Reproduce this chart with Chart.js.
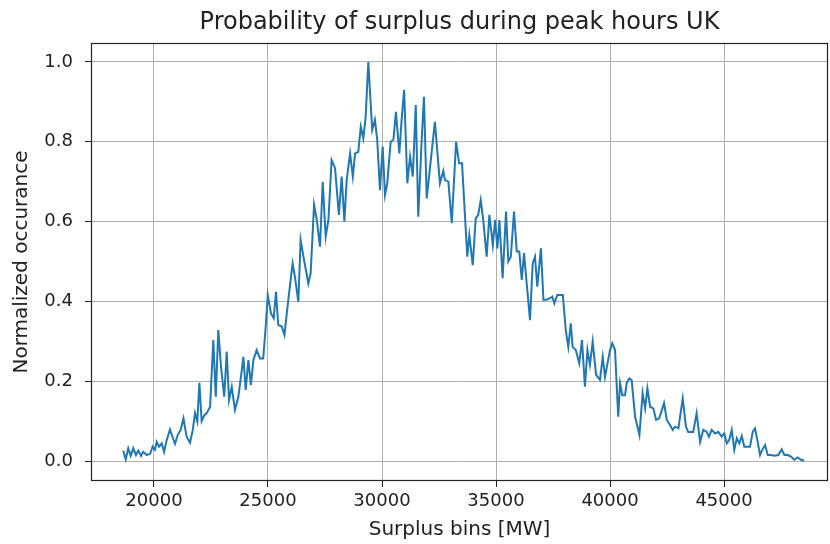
<!DOCTYPE html>
<html>
<head>
<meta charset="utf-8">
<script src="https://cdn.jsdelivr.net/npm/chart.js@4"></script>
<style>
  html, body { margin: 0; padding: 0; background: #fff; }
  #wrap { width: 830px; height: 544px; }
</style>
</head>
<body>
<div id="wrap"><canvas id="surplusChart" width="830" height="544"></canvas></div>
<script>
// ================== Data ==================
const chartTitle = "Probability of surplus during peak hours UK";

const surplusMW = [
  18650, 18760, 18870, 18980, 19090, 19210, 19310, 19430, 19530, 19680,
  19830, 19940, 20040, 20120, 20220, 20340, 20440, 20560, 20700, 20820,
  20920, 21040, 21170, 21290, 21430, 21580, 21700, 21800, 21900, 21990,
  22090, 22210, 22310, 22460, 22600, 22710, 22820, 22940, 23080, 23190,
  23290, 23410, 23550, 23700, 23850, 23920, 24020, 24140, 24250, 24360,
  24500, 24650, 24790, 24900, 24990, 25130, 25250, 25350, 25450, 25600,
  25720, 25890, 26080, 26180, 26330, 26430, 26580, 26770, 26870, 27020,
  27140, 27280, 27400, 27530, 27650, 27790, 27940, 28110, 28230, 28350,
  28450, 28600, 28720, 28820, 28960, 29070, 29180, 29280, 29400, 29570,
  29690, 29790, 29910, 30030, 30130, 30230, 30380, 30500, 30610, 30760,
  30860, 30970, 31110, 31230, 31350, 31480, 31590, 31740, 31840, 31960,
  32110, 32320, 32540, 32690, 32760, 32910, 33060, 33250, 33380, 33510,
  33740, 33830, 33980, 34110, 34220, 34330, 34440, 34590, 34710, 34860,
  34960, 35060, 35150, 35290, 35440, 35540, 35650, 35790, 35910, 36020,
  36130, 36230, 36320, 36490, 36610, 36710, 36810, 36970, 37080, 37220,
  37370, 37470, 37560, 37690, 37930, 38060, 38170, 38280, 38360, 38500,
  38650, 38770, 38900, 39010, 39120, 39240, 39390, 39560, 39680, 39780,
  40000, 40100, 40220, 40360, 40440, 40540, 40660, 40730, 40850, 40950,
  41100, 41290, 41430, 41540, 41640, 41760, 41900, 42020, 42160, 42370,
  42490, 42630, 42750, 42850, 43000, 43190, 43330, 43430, 43650, 43800,
  43950, 44090, 44240, 44340, 44460, 44610, 44750, 44900, 45010, 45120,
  45230, 45340, 45450, 45560, 45670, 45780, 45890, 46140, 46260, 46360,
  46460, 46580, 46680, 46800, 46920, 47060, 47210, 47380, 47530, 47650,
  47800, 47940, 48080, 48230, 48380, 48520
];

const occurrence = [
  0.026, 0.004, 0.032, 0.013, 0.032, 0.015, 0.026, 0.013, 0.023, 0.015,
  0.018, 0.036, 0.028, 0.048, 0.036, 0.044, 0.023, 0.053, 0.079, 0.059,
  0.043, 0.065, 0.078, 0.107, 0.061, 0.046, 0.078, 0.120, 0.099, 0.196,
  0.100, 0.115, 0.120, 0.136, 0.303, 0.161, 0.328, 0.236, 0.161, 0.274,
  0.153, 0.186, 0.128, 0.161, 0.228, 0.261, 0.178, 0.253, 0.190, 0.253,
  0.278, 0.257, 0.257, 0.337, 0.416, 0.370, 0.358, 0.424, 0.341, 0.337,
  0.316, 0.404, 0.495, 0.462, 0.399, 0.554, 0.504, 0.445, 0.470, 0.642,
  0.604, 0.537, 0.700, 0.562, 0.604, 0.754, 0.734, 0.617, 0.713, 0.600,
  0.704, 0.771, 0.713, 0.771, 0.775, 0.838, 0.809, 0.860, 1.000, 0.830,
  0.855, 0.805, 0.679, 0.788, 0.667, 0.696, 0.800, 0.805, 0.875, 0.771,
  0.855, 0.930, 0.696, 0.763, 0.713, 0.892, 0.612, 0.805, 0.913, 0.658,
  0.738, 0.850, 0.696, 0.727, 0.704, 0.700, 0.596, 0.800, 0.746, 0.746,
  0.512, 0.566, 0.491, 0.608, 0.617, 0.654, 0.604, 0.512, 0.617, 0.541,
  0.604, 0.533, 0.604, 0.458, 0.625, 0.500, 0.512, 0.625, 0.525, 0.525,
  0.454, 0.521, 0.462, 0.353, 0.495, 0.512, 0.437, 0.533, 0.404, 0.404,
  0.408, 0.412, 0.395, 0.416, 0.416, 0.328, 0.286, 0.345, 0.286, 0.278,
  0.245, 0.303, 0.186, 0.278, 0.241, 0.299, 0.216, 0.203, 0.261, 0.211,
  0.278, 0.295, 0.278, 0.111, 0.195, 0.165, 0.165, 0.195, 0.207, 0.203,
  0.111, 0.065, 0.170, 0.132, 0.182, 0.136, 0.132, 0.103, 0.107, 0.145,
  0.103, 0.090, 0.078, 0.086, 0.082, 0.157, 0.086, 0.073, 0.073, 0.120,
  0.048, 0.078, 0.073, 0.061, 0.078, 0.069, 0.073, 0.061, 0.069, 0.044,
  0.053, 0.078, 0.028, 0.057, 0.044, 0.063, 0.036, 0.036, 0.073, 0.082,
  0.053, 0.015, 0.028, 0.040, 0.015, 0.015, 0.013, 0.015, 0.029, 0.015,
  0.015, 0.011, 0.003, 0.009, 0.003, 0.001
];

const xTicks = [20000, 25000, 30000, 35000, 40000, 45000];
const yTicks = [0.0, 0.2, 0.4, 0.6, 0.8, 1.0];

// ================== Style ==================
const TEXT = "#222";
const GRID = "#b0b0b0";
const FONT = "'DejaVu Sans', sans-serif";
Chart.defaults.font.family = FONT;
Chart.defaults.color = TEXT;

// frame around the plot area (all four spines) + title centred over the axes
const frame = {
  id: "frame",
  afterDraw(chart) {
    const { ctx, chartArea: a } = chart;
    ctx.save();
    ctx.strokeStyle = "#222";
    ctx.lineWidth = 1.2;
    ctx.strokeRect(a.left + 0.5, a.top + 0.5, a.right - a.left - 1, a.bottom - a.top - 1);

    ctx.fillStyle = TEXT;
    ctx.font = `24px ${FONT}`;
    ctx.textAlign = "center";
    ctx.textBaseline = "alphabetic";
    ctx.fillText(chartTitle, (a.left + a.right) / 2, 29);
    ctx.restore();
  },
};

// ================== Chart ==================
const ctx = document.getElementById("surplusChart").getContext("2d");
new Chart(ctx, {
  type: "line",
  data: {
    datasets: [
      {
        label: "Normalized occurance",
        data: surplusMW.map((x, i) => ({ x, y: occurrence[i] })),
        borderColor: "#1f77b4",
        borderWidth: 2,
        pointRadius: 0,
        tension: 0,
        fill: false,
      },
    ],
  },
  options: {
    responsive: false,
    animation: false,
    layout: { padding: { left: 0, right: 2, top: 43, bottom: 0 } },
    plugins: {
      legend: { display: false },
      tooltip: { enabled: false },
      title: { display: false },
    },
    scales: {
      x: {
        type: "linear",
        min: 17237,
        max: 49561,
        afterBuildTicks: (axis) => {
          axis.ticks = xTicks.map((v) => ({ value: v }));
        },
        afterFit: (axis) => {
          axis.height = 63;
        },
        ticks: {
          color: TEXT,
          font: { size: 18 },
          padding: 4,
          maxRotation: 0,
          autoSkip: false,
          callback: (v) => String(v),
        },
        grid: { color: GRID, lineWidth: 1, tickColor: "#222", tickLength: 6 },
        border: { display: false },
        title: {
          display: true,
          text: "Surplus bins [MW]",
          color: TEXT,
          font: { size: 20 },
          padding: { top: 0, bottom: 2 },
        },
      },
      y: {
        min: -0.0501,
        max: 1.0476,
        afterBuildTicks: (axis) => {
          axis.ticks = yTicks.map((v) => ({ value: v }));
        },
        afterFit: (axis) => {
          axis.width = 91;
        },
        ticks: {
          color: TEXT,
          font: { size: 18 },
          padding: 12,
          callback: (v) => v.toFixed(1),
        },
        grid: { color: GRID, lineWidth: 1, tickColor: "#222", tickLength: 6 },
        border: { display: false },
        title: {
          display: true,
          text: "Normalized occurance",
          color: TEXT,
          font: { size: 20 },
          padding: { top: 10, bottom: 0 },
        },
      },
    },
  },
  plugins: [frame],
});
</script>
</body>
</html>
